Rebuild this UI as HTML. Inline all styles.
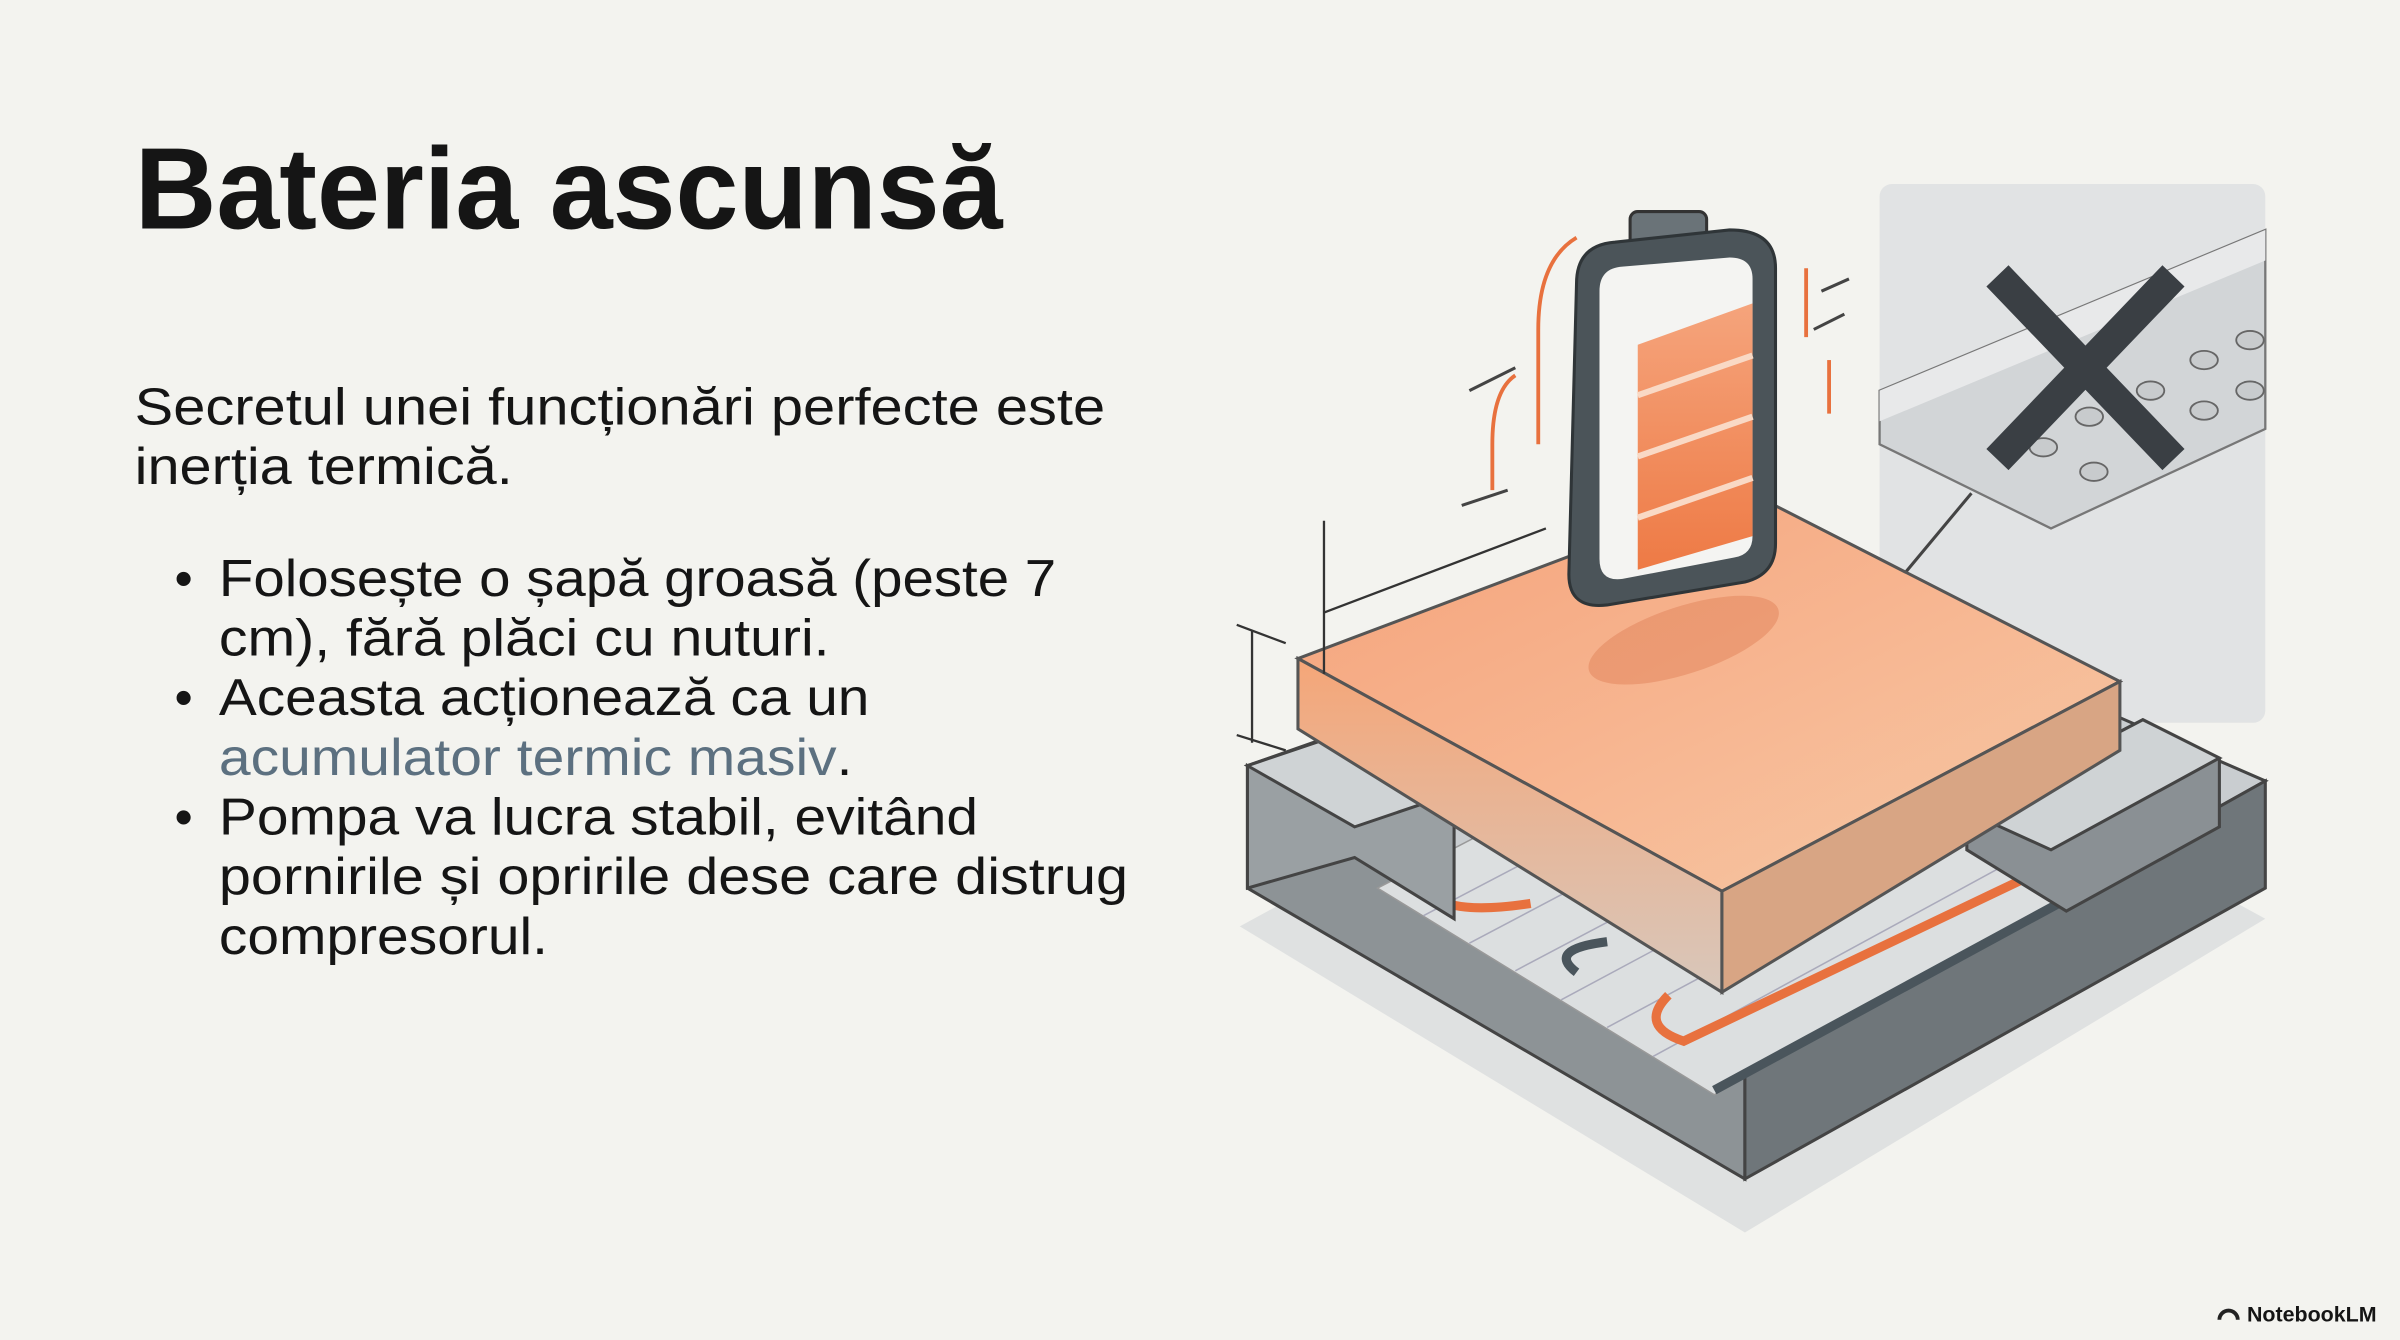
<!DOCTYPE html>
<html><head><meta charset="utf-8"><style>
html,body{margin:0;padding:0;background:#f3f3ef;}
svg{display:block;}
</style></head><body>
<svg width="2400" height="1340" viewBox="0 0 1568 875" xmlns="http://www.w3.org/2000/svg">
<defs>
<linearGradient id="top" x1="0" y1="0" x2="1" y2="1">
<stop offset="0" stop-color="#f4a27a"/><stop offset="0.5" stop-color="#f7b590"/><stop offset="1" stop-color="#f6c9a6"/>
</linearGradient>
<linearGradient id="fl" x1="0" y1="0" x2="0" y2="1">
<stop offset="0" stop-color="#f5a678"/><stop offset="1" stop-color="#d8c7bb"/>
</linearGradient>
<linearGradient id="bat" x1="0" y1="0" x2="0" y2="1">
<stop offset="0" stop-color="#f5a47c"/><stop offset="1" stop-color="#ee7a45"/>
</linearGradient>
</defs>
<rect width="1568" height="875" fill="#f3f3ef"/>
<!-- text -->
<g font-family="Liberation Sans, sans-serif" fill="#151515">
<text x="88" y="149" font-size="76" font-weight="bold" textLength="567" lengthAdjust="spacingAndGlyphs">Bateria ascunsă</text>
<g font-size="34">
<text x="88" y="277" textLength="634" lengthAdjust="spacingAndGlyphs">Secretul unei funcționări perfecte este</text>
<text x="88" y="316" textLength="247" lengthAdjust="spacingAndGlyphs">inerția termică.</text>
<text x="114" y="389">•</text><text x="143" y="389" textLength="547" lengthAdjust="spacingAndGlyphs">Folosește o șapă groasă (peste 7</text>
<text x="143" y="428" textLength="399" lengthAdjust="spacingAndGlyphs">cm), fără plăci cu nuturi.</text>
<text x="114" y="467">•</text><text x="143" y="467" textLength="425" lengthAdjust="spacingAndGlyphs">Aceasta acționează ca un</text>
<text x="143" y="506" textLength="414" lengthAdjust="spacingAndGlyphs"><tspan fill="#5c7080">acumulator termic masiv</tspan>.</text>
<text x="114" y="545">•</text><text x="143" y="545" textLength="496" lengthAdjust="spacingAndGlyphs">Pompa va lucra stabil, evitând</text>
<text x="143" y="584" textLength="594" lengthAdjust="spacingAndGlyphs">pornirile și opririle dese care distrug</text>
<text x="143" y="623" textLength="215" lengthAdjust="spacingAndGlyphs">compresorul.</text>
</g>
<text x="1468" y="863" font-size="14" font-weight="bold">NotebookLM</text>
</g>
<path d="M1450 862 a6 6 0 0 1 12 0" fill="none" stroke="#222" stroke-width="2.5"/>
<!-- inset panel -->
<rect x="1228" y="120" width="252" height="352" rx="8" fill="#e1e3e4"/>
<polygon points="1228,255 1480,150 1480,280 1340,345 1228,290" fill="#d2d5d7" stroke="#777" stroke-width="1.5"/>
<polygon points="1228,255 1480,150 1480,170 1228,275" fill="#e8e9ea"/>
<g fill="#c8cbcd" stroke="#666" stroke-width="1.2">
<ellipse cx="1440" cy="235" rx="9" ry="6"/><ellipse cx="1470" cy="222" rx="9" ry="6"/>
<ellipse cx="1405" cy="255" rx="9" ry="6"/><ellipse cx="1440" cy="268" rx="9" ry="6"/>
<ellipse cx="1365" cy="272" rx="9" ry="6"/><ellipse cx="1335" cy="292" rx="9" ry="6"/>
<ellipse cx="1368" cy="308" rx="9" ry="6"/><ellipse cx="1470" cy="255" rx="9" ry="6"/>
</g>
<path d="M1305 180 L1420 300 M1420 180 L1305 300" stroke="#3a3f44" stroke-width="20"/>
<line x1="1238" y1="382" x2="1288" y2="322" stroke="#444" stroke-width="2"/>
<circle cx="1238" cy="383" r="6" fill="#fff" stroke="#444" stroke-width="2"/>
<!-- shadow -->
<polygon points="810,605 1140,805 1480,600 1150,420" fill="#dfe1e1"/>
<!-- base layer -->
<polygon points="815,500 1170,375 1480,510 1140,700" fill="#c9cdd0" stroke="#444" stroke-width="2"/>
<polygon points="815,500 1140,700 1140,770 815,580" fill="#8d9396" stroke="#444" stroke-width="2"/>
<polygon points="1140,700 1480,510 1480,580 1140,770" fill="#6f767a" stroke="#444" stroke-width="2"/>
<!-- grid area -->
<polygon points="900,580 1120,715 1370,575 1150,450" fill="#dcdfe0" stroke="#999" stroke-width="1"/>
<g stroke="#aab" stroke-width="1">
<line x1="930" y1="598" x2="1180" y2="467"/><line x1="960" y1="616" x2="1210" y2="484"/>
<line x1="990" y1="634" x2="1240" y2="502"/><line x1="1020" y1="653" x2="1270" y2="519"/>
<line x1="1050" y1="671" x2="1300" y2="537"/><line x1="1080" y1="690" x2="1330" y2="554"/>
</g>
<path d="M930 575 Q935 600 1000 590" fill="none" stroke="#e8713e" stroke-width="6"/>
<path d="M1050 615 Q1010 620 1030 635" fill="none" stroke="#4a555c" stroke-width="6"/>
<path d="M1320 575 L1100 680 Q1070 670 1090 650" fill="none" stroke="#e8713e" stroke-width="6"/>
<path d="M1345 590 L1120 712" fill="none" stroke="#4a555c" stroke-width="6"/>
<!-- side blocks -->
<polygon points="815,500 880,478 950,518 950,600 885,560 815,580" fill="#9aa0a3" stroke="#444" stroke-width="2"/>
<polygon points="815,500 880,478 950,518 885,540" fill="#cfd3d5" stroke="#444" stroke-width="2"/>
<polygon points="1285,530 1400,470 1450,495 1450,540 1350,595 1285,555" fill="#8a9094" stroke="#444" stroke-width="2"/>
<polygon points="1285,530 1400,470 1450,495 1340,555" fill="#cfd3d5" stroke="#444" stroke-width="2"/>
<!-- orange slab -->
<polygon points="848,430 1140,320 1385,445 1125,582" fill="url(#top)" stroke="#555" stroke-width="2"/>
<polygon points="848,430 1125,582 1125,648 848,476" fill="url(#fl)" stroke="#555" stroke-width="2"/>
<polygon points="1125,582 1385,445 1385,490 1125,648" fill="#d8a584" stroke="#555" stroke-width="2"/>
<ellipse cx="1100" cy="418" rx="65" ry="22" fill="#e58a62" opacity="0.6" transform="rotate(-18 1100 418)"/>
<!-- dimension -->
<line x1="865" y1="340" x2="865" y2="440" stroke="#333" stroke-width="1.5"/>
<line x1="865" y1="400" x2="1010" y2="345" stroke="#333" stroke-width="1.5"/>
<line x1="818" y1="412" x2="818" y2="485" stroke="#333" stroke-width="1.5"/>
<line x1="808" y1="408" x2="840" y2="420" stroke="#333" stroke-width="1.5"/>
<line x1="808" y1="480" x2="840" y2="490" stroke="#333" stroke-width="1.5"/>
<!-- heat lines -->
<g fill="none" stroke="#e8713e" stroke-width="2.5">
<path d="M1030 155 Q1005 170 1005 215 L1005 290"/>
<path d="M990 245 Q975 255 975 290 L975 320"/>
<path d="M1180 175 L1180 220"/><path d="M1195 235 L1195 270"/>
</g>
<g stroke="#444" stroke-width="2">
<line x1="960" y1="255" x2="990" y2="240"/><line x1="1185" y1="215" x2="1205" y2="205"/>
<line x1="1190" y1="190" x2="1208" y2="182"/><line x1="955" y1="330" x2="985" y2="320"/>
</g>
<!-- battery -->
<rect x="1065" y="138" width="50" height="40" rx="5" fill="#6a7378" stroke="#333" stroke-width="2"/>
<path d="M1030 185 Q1030 160 1055 158 L1130 150 Q1160 150 1160 175 L1160 355 Q1160 375 1140 380 L1050 395 Q1025 398 1025 375 Z" fill="#4b5459" stroke="#2f3538" stroke-width="2"/>
<path d="M1045 190 Q1045 175 1060 174 L1130 168 Q1145 168 1145 182 L1145 350 Q1145 362 1133 364 L1060 378 Q1045 380 1045 365 Z" fill="#f4f4f2"/>
<polygon points="1070,225 1145,198 1145,350 1070,372" fill="url(#bat)"/>
<g stroke="#f9d9c5" stroke-width="4">
<line x1="1070" y1="258" x2="1145" y2="232"/><line x1="1070" y1="298" x2="1145" y2="272"/><line x1="1070" y1="338" x2="1145" y2="312"/>
</g>
</svg>
</body></html>
